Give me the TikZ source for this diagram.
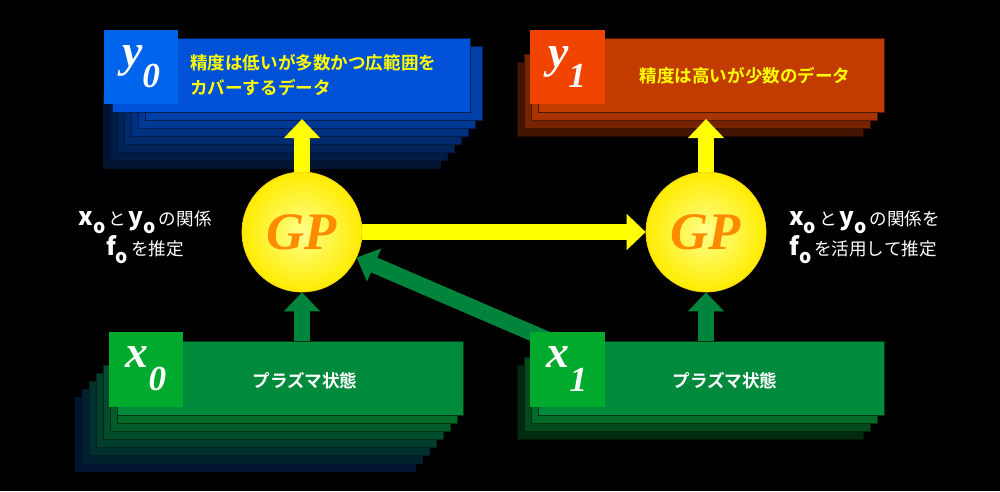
\documentclass[tikz,border=0pt]{standalone}
\usepackage{fontspec}
\setmainfont{Liberation Serif}
\newfontfamily\jp{Noto Sans CJK JP}
\newfontfamily\jpb{Noto Sans CJK JP Bold}
\usetikzlibrary{arrows.meta,positioning,calc}
\definecolor{bluemain}{HTML}{0050D8}
\definecolor{bluesq}{HTML}{0064EC}
\definecolor{bluelay}{HTML}{0040A8}
\definecolor{orgmain}{HTML}{C23C00}
\definecolor{orgsq}{HTML}{F04400}
\definecolor{orglay}{HTML}{A83400}
\definecolor{grnmain}{HTML}{008A3C}
\definecolor{grnsq}{HTML}{00AA2C}
\definecolor{grnlay}{HTML}{006A28}
\definecolor{deep}{HTML}{001430}
\definecolor{ylw}{HTML}{FFFF00}
\definecolor{gparrow}{HTML}{00843C}
\tikzset{
every picture/.style={x={(0.02cm,0)}, y={(0,-0.02cm)}},
%%%%%%%%%% box styles
mainbox/.style={fill=#1, draw=black!60!#1, line width=0.4pt},
layerbox/.style={fill=#1, draw=black!50!#1, line width=0.4pt},
sqbox/.style={fill=#1, draw=none, minimum size=1.5cm, inner sep=0pt,
              text=white, font=\bfseries\itshape\fontsize{26}{26}\selectfont},
%%%%%%%%%% GP balls
gpball/.style={circle, minimum size=2.4cm, inner sep=0pt,
               inner color=white!55!yellow, outer color=yellow!85!orange,
               draw=yellow!70!orange, line width=0.4pt,
               font=\bfseries\itshape\fontsize{30}{30}\selectfont,
               text=orange!90!yellow},
%%%%%%%%%% texts
boxtext/.style={font=\jpb\fontsize{10}{14}\selectfont, align=left},
desc/.style={text=white, font=\jp\fontsize{10}{16}\selectfont},
%%%%%%%%%% fat arrows
fatarrow/.style={draw=#1, line width=0.32cm,
                 -{Triangle[length=0.38cm, width=0.7cm]}},
}
\newcommand{\mvar}[2]{{\bfseries\itshape\fontsize{14}{14}\selectfont #1\raisebox{-0.6ex}{\fontsize{11}{11}\selectfont #2}}}
\begin{document}
\begin{tikzpicture}
\fill[black] (0,0) rectangle (1000,491);
\useasboundingbox (0,0) rectangle (1000,491);
%% y0 stack (blue)
\foreach \i in {7,...,1}{
  \pgfmathsetmacro\t{100-100*(\i-1)/6}
  \draw[layerbox=bluelay!\t!deep] ({145-7*(\i-1)},{38+8*\i}) rectangle ({482-7*(\i-1)},{112+8*\i});
}
\draw[mainbox=bluemain] (112,38) rectangle (470,112);
\node[sqbox=bluesq] (y0) at (141,67) {\raisebox{0.5ex}{y}\raisebox{-0.5ex}{\fontsize{20}{20}\selectfont 0}};
\node[boxtext, text=ylw, anchor=west] (y0txt) at (184,75) {精度は低いが多数かつ広範囲を\\カバーするデータ};
%% y1 stack (orange)
\foreach \i in {3,2,1}{
  \pgfmathsetmacro\t{100-30*(\i-1)}
  \draw[layerbox=orglay!\t!black] ({538-7*\i},{38+8*\i}) rectangle ({884-7*\i},{112+8*\i});
}
\draw[mainbox=orgmain] (538,38) rectangle (884,112);
\node[sqbox=orgsq] (y1) at (567,67) {\raisebox{0.5ex}{y}\raisebox{-0.5ex}{\fontsize{20}{20}\selectfont 1}};
\node[boxtext, text=ylw] (y1txt) at (745,76) {精度は高いが少数のデータ};
%% x0 stack (green)
\foreach \i in {7,...,1}{
  \pgfmathsetmacro\t{100-100*(\i-1)/6}
  \draw[layerbox=grnlay!\t!deep] ({117-7*(\i-1)},{341+8*\i}) rectangle ({457-7*(\i-1)},{415+8*\i});
}
\draw[mainbox=grnmain] (117,341) rectangle (463,415);
\node[sqbox=grnsq] (x0) at (146,369) {\raisebox{0.5ex}{x}\raisebox{-0.6ex}{\fontsize{20}{20}\selectfont 0}};
\node[boxtext, text=white] (x0txt) at (305,381) {プラズマ状態};
%% x1 stack (green)
\foreach \i in {3,2,1}{
  \pgfmathsetmacro\t{100-30*(\i-1)}
  \draw[layerbox=grnlay!\t!black] ({538-7*\i},{341+8*\i}) rectangle ({884-7*\i},{415+8*\i});
}
\draw[mainbox=grnmain] (538,341) rectangle (884,415);
%% GP balls
\node[gpball] (gpA) at (302,232) {GP};
\node[gpball] (gpB) at (706,232) {GP};
%% arrows
\coordinate (y0in) at (302,119);
\coordinate (y1in) at (706,119);
\coordinate (x0out) at (302,341);
\coordinate (x1out) at (706,341);
\coordinate (x1diag) at (560,345);
\draw[fatarrow=ylw] (gpA.north) -- (y0in);
\draw[fatarrow=ylw] (gpB.north) -- (y1in);
\draw[fatarrow=ylw] (gpA.east) -- (gpB.west);
\draw[fatarrow=gparrow] (x0out) -- (gpA.south);
\draw[fatarrow=gparrow] (x1out) -- (gpB.south);
\draw[fatarrow=gparrow] (x1diag) -- (gpA.-25);
\node[sqbox=grnsq] (x1) at (567,369) {\raisebox{0.5ex}{x}\raisebox{-0.6ex}{\fontsize{20}{20}\selectfont 1}};
\node[boxtext, text=white] (x1txt) at (725,381) {プラズマ状態};
%% descriptions
\node[desc, align=center] (descA) at (145,237) {\mvar{x}{o}\,と\,\mvar{y}{o}\,の関係\\\mvar{f}{o}\,を推定};
\node[desc, align=left, anchor=west] (descB) at (783,237) {\mvar{x}{o}\,と\,\mvar{y}{o}\,の関係を\\\mvar{f}{o}\,を活用して推定};
\end{tikzpicture}
\end{document}
